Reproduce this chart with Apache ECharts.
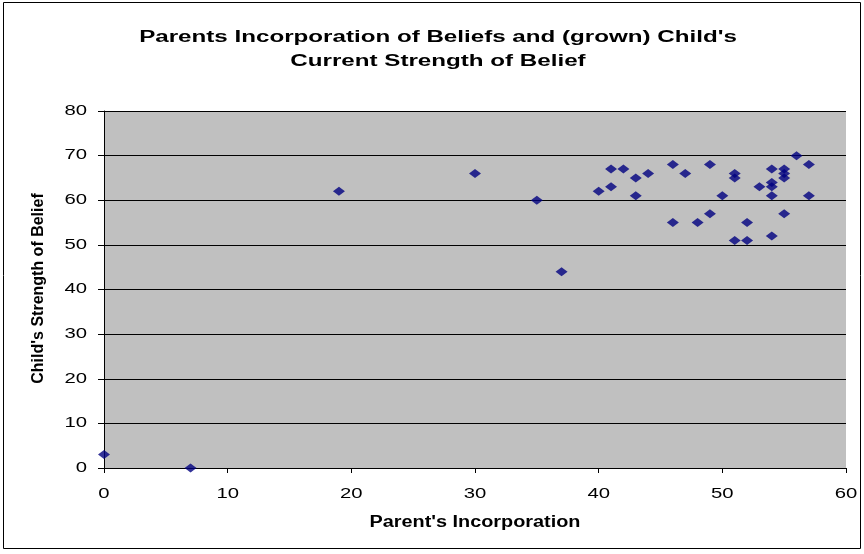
<!DOCTYPE html>
<html><head><meta charset="utf-8">
<script src="https://cdn.jsdelivr.net/npm/echarts@6/dist/echarts.min.js"></script>
<style>html,body{margin:0;padding:0;background:#fff}#c{width:864px;height:554px}</style>
</head><body><div id="c"></div>
<script>
const parentIncorporation = [0, 7, 19, 30, 35, 37, 40, 41, 41, 42, 43, 43, 44, 46, 46, 47, 48, 49, 49, 50, 51, 51, 51, 52, 52, 53, 54, 54, 54, 54, 54, 55, 55, 55, 55, 56, 57, 57];
const childStrength = [3, 0, 62, 66, 60, 44, 62, 67, 63, 67, 65, 61, 66, 68, 55, 66, 55, 68, 57, 61, 66, 65, 51, 55, 51, 63, 67, 64, 63, 61, 52, 67, 66, 65, 57, 70, 68, 61];
const xTicks = [0, 10, 20, 30, 40, 50, 60];
const yTicks = [0, 10, 20, 30, 40, 50, 60, 70, 80];
const titleLines = ["Parents Incorporation of Beliefs and (grown) Child's", "Current Strength of Belief"];
const xName = "Parent's Incorporation";
const yName = "Child's Strength of Belief";

const chart = echarts.init(document.getElementById('c'));
const FF = '"Liberation Sans", Arial, sans-serif';
function txt(text, x, y, opts) {
  const size = opts.size, bold = opts.bold;
  return {
    type: 'text', x: x, y: y, scaleX: opts.scaleX || 1, rotation: opts.rotation || 0, silent: true,
    style: {
      text: text, fill: '#000',
      font: (bold ? 'bold ' : '') + size + 'px ' + FF,
      align: opts.align || 'center', verticalAlign: 'middle',
      textAlign: opts.align || 'center', textVerticalAlign: 'middle'
    }
  };
}
chart.setOption({
  animation: false,
  grid: { left: 104, right: 18, top: 111, bottom: 86, backgroundColor: '#C0C0C0', show: true, borderWidth: 0 },
  xAxis: {
    type: 'value', min: xTicks[0], max: xTicks[xTicks.length - 1], interval: 10,
    axisLine: { show: true, onZero: false, lineStyle: { color: '#000', width: 1 } },
    axisTick: { show: true, length: 5, inside: false, lineStyle: { color: '#000' } },
    axisLabel: { show: false },
    splitLine: { show: false }
  },
  yAxis: {
    type: 'value', min: yTicks[0], max: yTicks[yTicks.length - 1], interval: 10,
    axisLine: { show: true, onZero: false, lineStyle: { color: '#000', width: 1 } },
    axisTick: { show: true, length: 6, inside: false, lineStyle: { color: '#000' } },
    axisLabel: { show: false },
    splitLine: { show: true, lineStyle: { color: '#000', width: 1 } }
  },
  series: [{
    type: 'scatter', symbol: 'diamond', symbolSize: [12, 9],
    itemStyle: { color: '#000080' },
    data: parentIncorporation.map((x, i) => [x, childStrength[i]])
  }]
});

const g = [{ type: 'rect', shape: { x: 3.5, y: 2.5, width: 857, height: 546 }, style: { fill: 'none', stroke: '#000', lineWidth: 1 }, silent: true, z: -1 }];
g.push(txt(titleLines[0], 438, 38, { size: 16, bold: true, scaleX: 1.51 }));
g.push(txt(titleLines[1], 438, 62, { size: 16, bold: true, scaleX: 1.51 }));
xTicks.forEach(v => {
  const p = chart.convertToPixel({ gridIndex: 0 }, [v, yTicks[0]]);
  g.push(txt(String(v), p[0], p[1] + 26, { size: 14, scaleX: 1.45 }));
});
yTicks.forEach(v => {
  const p = chart.convertToPixel({ gridIndex: 0 }, [xTicks[0], v]);
  g.push(txt(String(v), p[0] - 17, p[1], { size: 14, scaleX: 1.45, align: 'right' }));
});
const xMid = chart.convertToPixel({ gridIndex: 0 }, [(xTicks[0] + xTicks[xTicks.length - 1]) / 2, yTicks[0]]);
g.push(txt(xName, xMid[0], xMid[1] + 55, { size: 16, bold: true, scaleX: 1.24 }));
const yMid = chart.convertToPixel({ gridIndex: 0 }, [xTicks[0], (yTicks[0] + yTicks[yTicks.length - 1]) / 2]);
g.push(txt(yName, 39, yMid[1] - 1, { size: 16, bold: true, rotation: Math.PI / 2 }));
chart.setOption({ graphic: g });
</script></body></html>
